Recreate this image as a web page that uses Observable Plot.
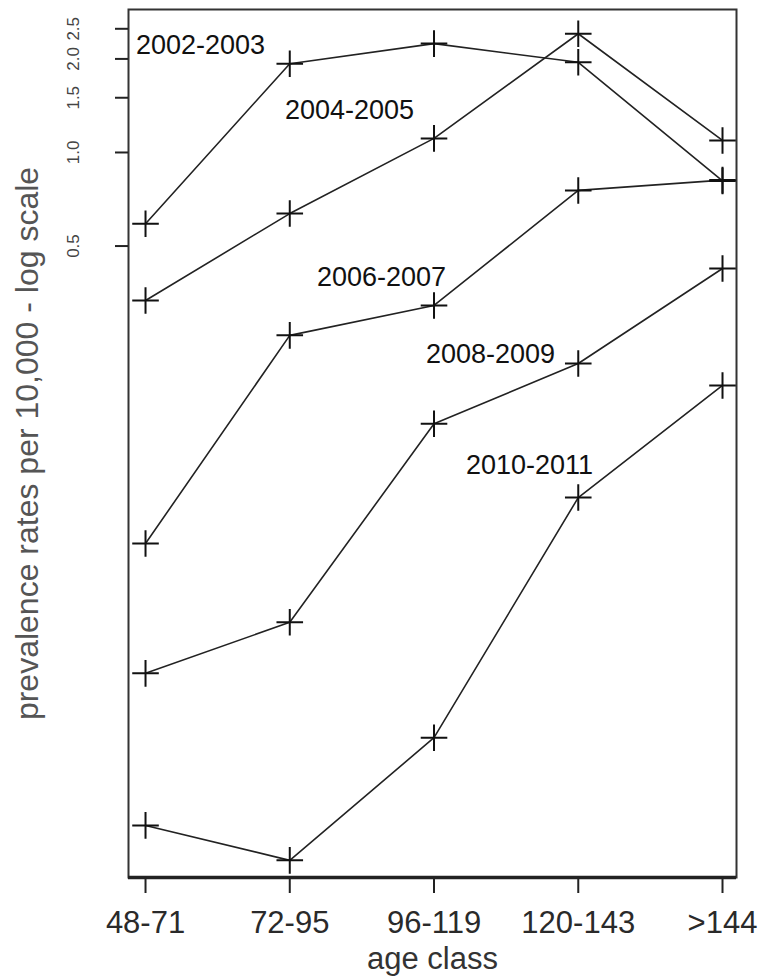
<!DOCTYPE html>
<html>
<head>
<meta charset="utf-8">
<script src="https://cdn.jsdelivr.net/npm/d3@7"></script>
<script src="https://cdn.jsdelivr.net/npm/@observablehq/plot@0.6"></script>
<style>
  html, body { margin: 0; padding: 0; background: #fff; }
</style>
</head>
<body>
<div id="chart"></div>
<script>
// ---- data ----
const ageClasses = ["48-71", "72-95", "96-119", "120-143", ">144"];
const periods = ["2002-2003", "2004-2005", "2006-2007", "2008-2009", "2010-2011"];
const rates2002_2003 = [0.59, 1.93, 2.24, 1.95, 0.81];
const rates2004_2005 = [0.334, 0.636, 1.11, 2.41, 1.093];
const rates2006_2007 = [0.0552, 0.258, 0.322, 0.755, 0.815];
const rates2008_2009 = [0.0211, 0.0308, 0.134, 0.2095, 0.4235];
const rates2010_2011 = [0.00684, 0.00528, 0.0131, 0.0776, 0.178];
const yTickValues = [0.5, 1.0, 1.5, 2.0, 2.5];
// annotation anchors for the period labels (age-class index, rate)
const labelAgeIndex = [0.381, 1.414, 1.636, 2.392, 2.662];
const labelRate = [2.067, 1.286, 0.373, 0.2095, 0.0921];
const xTitle = "age class";
const yTitle = "prevalence rates per 10,000 - log scale";

// ---- build table ----
const seriesValues = [rates2002_2003, rates2004_2005, rates2006_2007, rates2008_2009, rates2010_2011];
const rows = [];
periods.forEach((p, s) => {
  seriesValues[s].forEach((v, i) => rows.push({period: p, age: i, rate: v}));
});
const labels = periods.map((p, s) => ({text: p, age: labelAgeIndex[s], rate: labelRate[s]}));
const ageIndex = ageClasses.map((_, i) => i);
const yDomain = [0.00465, 2.884];

const chart = Plot.plot({
  width: 759,
  height: 979,
  marginLeft: 128,
  marginRight: 23,
  marginTop: 9,
  marginBottom: 102,
  style: {fontFamily: "'Liberation Sans', Arial, sans-serif", background: "#fff", color: "#222"},
  x: {type: "linear", domain: [-0.118, 4.097]},
  y: {type: "log", domain: yDomain},
  marks: [
    Plot.frame({stroke: "#333", strokeWidth: 2}),
    Plot.ruleY([yDomain[0]], {stroke: "#222", strokeWidth: 3.5}),
    Plot.axisX({ticks: ageIndex, tickFormat: i => ageClasses[i], tickSize: 16, tickPadding: 17, fontSize: 31, strokeWidth: 2, label: null, fill: "#2a2a2a"}),
    Plot.axisY(yTickValues, {anchor: "left", tickSize: 13, tickPadding: 37, tickRotate: -90, tickFormat: d3.format(".1f"), fontSize: 17, strokeWidth: 2, label: null, fill: "#444"}),
    Plot.line(rows, {x: "age", y: "rate", z: "period", stroke: "#222", strokeWidth: 1.6}),
    Plot.dot(rows, {x: "age", y: "rate", symbol: "plus", r: 8.6, stroke: "#111", strokeWidth: 2}),
    Plot.text(labels, {x: "age", y: "rate", text: "text", fontSize: 27, textAnchor: "middle", lineAnchor: "bottom", fill: "#111"}),
    Plot.text([xTitle], {frameAnchor: "bottom", dy: 91, textAnchor: "middle", lineAnchor: "bottom", fontSize: 31, fill: "#333"}),
    Plot.text([yTitle], {frameAnchor: "left", dx: -91, rotate: -90, textAnchor: "middle", lineAnchor: "bottom", fontSize: 32, fill: "#555"})
  ]
});
document.getElementById("chart").appendChild(chart);
</script>
</body>
</html>
